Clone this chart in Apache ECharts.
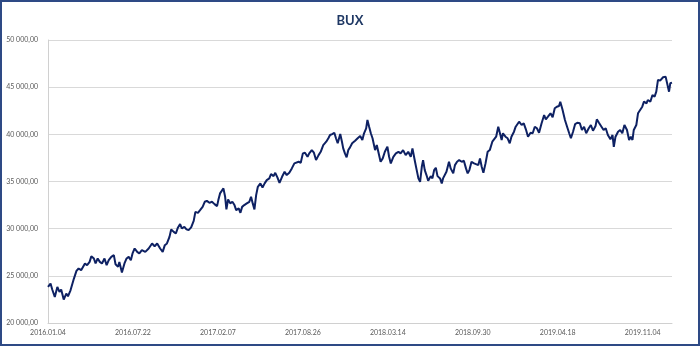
<!DOCTYPE html>
<html><head><meta charset="utf-8">
<script src="https://cdn.jsdelivr.net/npm/echarts@6/dist/echarts.min.js"></script>
<style>html,body{margin:0;padding:0;background:#fff}#c{width:700px;height:346px}</style>
</head><body><div id="c"></div>
<script>
const chartTitle = 'BUX';
// x axis: days since 2016.01.04, a tick every 200 days
const xTickLabels = ['2016.01.04','2016.07.22','2017.02.07','2017.08.26','2018.03.14','2018.09.30','2019.04.18','2019.11.04'];
const lastDay = 1469;
const dayOffsets = [
0,6,10,16,22,27,31,37,43,47,53,57,61,67,72,78,82,87,92,98,102,108,112,117,122,127,133,138,143,149,155,159,165,168,174,180,185,190,195,199,204,210,215,221,229,237,245,251,257,264,270,275,280,
286,290,296,301,306,311,315,321,326,331,337,343,347,353,358,364,369,374,380,386,392,398,401,405,409,413,417,420,424,429,434,439,443,449,453,457,462,468,474,478,482,486,490,494,500,505,510,515,521,525,531,535,540,545,551,557,562,568,574,580,
584,590,595,600,605,611,615,621,626,631,637,642,648,655,660,664,669,674,678,682,688,692,695,699,703,707,711,716,723,729,735,740,744,749,752,756,760,764,770,774,778,783,788,793,799,803,807,813,819,825,830,836,842,848,854,858,864,
868,872,876,880,883,887,891,895,901,905,909,913,917,923,927,930,934,938,944,948,954,958,963,968,974,979,984,988,992,997,1003,1007,1013,1017,1021,1025,1030,1035,1040,1046,1050,1055,1060,1064,1068,1071,1077,1082,1087,1091,1097,1101,1105,1109,1115,1120,1125,1130,1136,1141,1146,1151,1156,1162,1168,
1172,1177,1183,1188,1193,1198,1203,1206,1211,1217,1222,1227,1231,1236,1241,1246,1252,1257,1262,1267,1273,1278,1283,1289,1292,1297,1303,1308,1313,1318,1324,1329,1332,1336,1342,1347,1352,1357,1363,1368,1372,1376,1379,1385,1389,1394,1399,1403,1409,1412,1418,1423,1428,1432,1436,1441,1448,1454,1458,1462,1465,1469
];
const buxValues = [
23820,24180,23550,22760,23820,23290,23550,22480,23120,22830,23470,23290,24710,25520,25780,25600,25780,26310,26130,26480,27080,26840,26310,26840,26480,26310,26840,26130,26660,27010,27190,26230,25950,26480,25350,26310,26840,27010,26660,27370,27900,27540,27370,27720,27540,27900,28430,28140,28430,27900,27540,28250,28430,
29130,29920,29660,29490,30130,30480,30020,30190,29920,29840,30130,30830,31780,31680,31960,32310,32850,32950,32740,32850,32600,32390,33030,33740,33910,34270,33380,32040,33100,32680,32850,32500,31960,32150,31680,32310,32500,32680,32850,33380,32680,32040,33560,34440,34800,34370,34800,35150,35330,35790,35570,35920,35440,34860,35500,36030,35680,35920,36390,36920,
36740,37090,36990,37980,38050,37620,37980,38330,38050,37270,37800,38150,38860,39220,39580,39930,40030,40170,39580,39050,40030,39220,38510,37980,37560,38330,38620,39050,39320,39580,39820,39400,40110,40640,41520,40810,40110,39580,38330,38860,38680,37090,37450,38150,38680,37620,36920,37620,37980,38150,37980,38330,37800,38150,37620,38510,37090,
36210,35330,34970,36560,37270,36210,35680,35070,35570,35330,36210,36450,35570,35330,34800,35330,35150,36030,37090,36390,35860,36740,37090,37270,37090,37200,36390,35860,36210,37090,36920,37090,36740,37450,36560,35920,36920,38150,38330,39220,39400,39750,40810,40110,39400,40110,39750,39580,39050,39750,40280,40810,40740,41340,40990,41170,40530,39750,40170,40110,40810,40640,40170,41170,42050,
41590,41870,42230,41810,42760,42930,43010,43460,42660,41520,40810,40110,39580,40280,41090,41230,41170,40460,40810,40110,40640,40990,40380,40880,41590,41230,40810,40460,40640,39930,39470,39930,38680,39750,40280,40460,40110,40990,40460,39400,39750,39400,40460,40990,42230,42580,42930,43460,43290,43640,43460,44170,43990,44520,45770,45690,46050,46120,45950,44520,45420,45480
];
const yMin = 20000, yMax = 50000, yStep = 5000;

const seriesData = dayOffsets.map((d, i) => [d, buxValues[i]]);
function fmtNum(v) {
  return String(Math.round(v)).replace(/\B(?=(\d{3})+(?!\d))/g, ' ') + ',00';
}
const chart = echarts.init(document.getElementById('c'));
chart.setOption({
  animation: false,
  title: {
    text: chartTitle, left: 'center', top: 9,
    textStyle: { fontFamily: 'Lato', fontSize: 13, fontWeight: 'bold', color: '#1F3864' }
  },
  grid: { left: 48, right: 28, top: 40, bottom: 23, containLabel: false },
  xAxis: {
    type: 'value', min: 0, max: lastDay, interval: 200,
    axisLine: { show: true, lineStyle: { color: '#D0D0D0' } },
    axisTick: { show: false },
    splitLine: { show: false },
    axisLabel: {
      showMaxLabel: false,
      formatter: v => (v % 200 === 0 ? (xTickLabels[v / 200] || '') : ''),
      fontFamily: 'Lato', fontSize: 7, color: '#595959', margin: 6
    }
  },
  yAxis: {
    type: 'value', min: yMin, max: yMax, interval: yStep,
    axisLine: { show: true, lineStyle: { color: '#D0D0D0' } },
    axisTick: { show: false },
    splitLine: { lineStyle: { color: '#D9D9D9' } },
    axisLabel: { formatter: fmtNum, fontFamily: 'Lato', fontSize: 7, color: '#595959', margin: 10 }
  },
  series: [{
    type: 'line', data: seriesData, symbol: 'none', showSymbol: false,
    lineStyle: { color: '#0E2163', width: 2 }, z: 3
  }],
  graphic: [{
    type: 'rect', silent: true, z: 100,
    shape: { x: 1, y: 1, width: 698, height: 344 },
    style: { fill: 'none', stroke: '#2E4A85', lineWidth: 2 }
  }]
});
</script>
</body></html>
